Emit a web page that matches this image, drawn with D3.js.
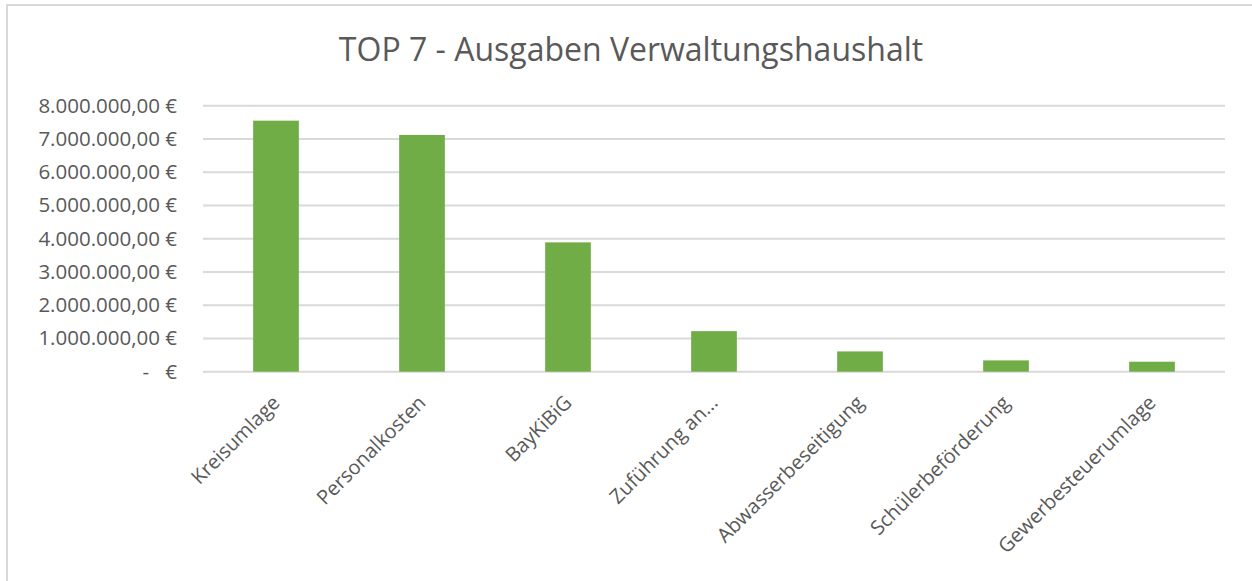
<!DOCTYPE html>
<html>
<head>
<meta charset="utf-8">
<script src="https://cdn.jsdelivr.net/npm/d3@7"></script>
<style>
  body { margin: 0; background: #fff; }
  text { font-family: "Open Sans", sans-serif; fill: #595959; }
</style>
</head>
<body>
<div id="chart"></div>
<script>
// TOP 7 spending items
var categories = ["Kreisumlage", "Personalkosten", "BayKiBiG", "Zuführung an...",
                  "Abwasserbeseitigung", "Schülerbeförderung", "Gewerbesteuerumlage"];
var values = [7550000, 7120000, 3890000, 1220000, 610000, 340000, 300000];
var yTicks = [0, 1000000, 2000000, 3000000, 4000000, 5000000, 6000000, 7000000, 8000000];
var title = "TOP 7 - Ausgaben Verwaltungshaushalt";

var w = 1252, h = 581;
var plotLeft = 203, plotRight = 1225, plotTop = 105.7, plotBottom = 371.7;

var svg = d3.select("#chart").append("svg")
  .attr("width", w)
  .attr("height", h);

// chart frame (only left + top visible in the picture)
svg.append("rect")
  .attr("x", 7).attr("y", 5)
  .attr("width", w + 20).attr("height", h + 20)
  .attr("fill", "none")
  .attr("stroke", "#d9d9d9")
  .attr("stroke-width", 2);

svg.append("text")
  .attr("x", 631).attr("y", 61)
  .attr("text-anchor", "middle")
  .style("font-size", "32px")
  .text(title);

var x = d3.scaleBand().domain(categories).range([plotLeft, plotRight]).padding(0);
var y = d3.scaleLinear().domain([0, 8000000]).range([plotBottom, plotTop]);

var fmt = d3.formatLocale({decimal: ",", thousands: ".", grouping: [3], currency: ["", " €"]}).format(",.2f");

// gridlines
svg.append("g").selectAll("line")
  .data(yTicks)
  .enter().append("line")
  .attr("x1", plotLeft).attr("x2", plotRight)
  .attr("y1", function (d) { return y(d); })
  .attr("y2", function (d) { return y(d); })
  .attr("stroke", "#d9d9d9")
  .attr("stroke-width", 2);

// y labels
var yl = svg.append("g").selectAll("g")
  .data(yTicks)
  .enter().append("g")
  .attr("transform", function (d) { return "translate(177," + (y(d) + 7) + ")"; });

yl.append("text")
  .attr("text-anchor", "end")
  .style("font-size", "20.5px")
  .text(function (d) { return d === 0 ? "€" : fmt(d) + " €"; });

yl.filter(function (d) { return d === 0; }).append("text")
  .attr("x", -28)
  .attr("text-anchor", "end")
  .style("font-size", "20.5px")
  .text("-");

// bars
var bw = x.bandwidth() * 0.313;
svg.append("g").selectAll("rect")
  .data(values)
  .enter().append("rect")
  .attr("x", function (d, i) { return x(categories[i]) + (x.bandwidth() - bw) / 2; })
  .attr("y", function (d) { return y(d); })
  .attr("width", bw)
  .attr("height", function (d) { return y(0) - y(d); })
  .attr("fill", "#70ad47");

// category labels, rotated
svg.append("g").selectAll("text")
  .data(categories)
  .enter().append("text")
  .attr("text-anchor", "end")
  .style("font-size", "20px")
  .attr("transform", function (d) {
    return "translate(" + (x(d) + x.bandwidth() / 2 + 5) + ",404) rotate(-45)";
  })
  .text(function (d) { return d; });
</script>
</body>
</html>
